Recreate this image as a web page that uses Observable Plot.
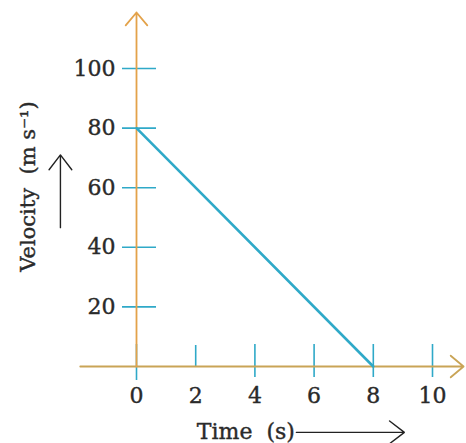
<!DOCTYPE html>
<html>
<head>
<meta charset="utf-8">
<script src="https://cdn.jsdelivr.net/npm/d3@7"></script>
<script src="https://cdn.jsdelivr.net/npm/@observablehq/plot@0.6"></script>
<style>
  html, body { margin: 0; padding: 0; background: #fff; }
  #chart svg { display: block; }
</style>
</head>
<body>
<div id="chart"></div>
<script>
// Data
const time = [0, 8];          // s
const velocity = [80, 0];     // m/s
const xTicks = [0, 2, 4, 6, 8, 10];
const yTicks = [20, 40, 60, 80, 100];
const xAxisExtent = [-1.9, 11.05];
const yAxisExtent = [0, 118.8];
const xLabel = "Time  (s)";
const yLabel = "Velocity  (m s\u207B\u00B9)";
// label placement (data units)
const xLabelPos = {x: 5.35, y: -22.1};
const yLabelPos = {x: -3.65, y: 60.4};
const xLabelArrow = {x1: 5.4, x2: 9.05, y: -22.1};
const yLabelArrow = {x: -2.57, y1: 46.6, y2: 71};

const points = time.map((t, i) => ({t, v: velocity[i]}));
const font = "DejaVu Serif, Liberation Serif, serif";
const teal = "#2fa9c8";
const ink = "#2a2a2a";

const chart = Plot.plot({
  width: 466,
  height: 443,
  marginLeft: 136,
  marginRight: 34,
  marginTop: 68,
  marginBottom: 77,
  x: {domain: [0, 10], axis: null},
  y: {domain: [0, 100], axis: null},
  style: {fontFamily: font, background: "#fff"},
  marks: [
    // x ticks (crossing axis)
    Plot.ruleX(xTicks.filter(d => d !== 2 && d !== 0), {stroke: teal, strokeWidth: 1.6, insetTop: 276, insetBottom: -11}),
    Plot.ruleX([2], {stroke: teal, strokeWidth: 1.6, insetTop: 277, insetBottom: 0}),
    Plot.ruleX([0], {stroke: teal, strokeWidth: 1.6, insetTop: 276, insetBottom: -14}),
    // y ticks
    Plot.ruleY(yTicks, {stroke: teal, strokeWidth: 1.6, insetLeft: -14, insetRight: 276}),
    // axis lines with arrowheads
    Plot.arrow([{x1: xAxisExtent[0], x2: xAxisExtent[1]}], {
      x1: "x1", x2: "x2", y1: 0, y2: 0, bend: 0,
      stroke: "#c9a456", strokeWidth: 1.8, headLength: 14, headAngle: 80
    }),
    Plot.arrow([{y1: yAxisExtent[0], y2: yAxisExtent[1]}], {
      x1: 0, x2: 0, y1: "y1", y2: "y2", bend: 0,
      stroke: "#e3a24a", strokeWidth: 1.8, headLength: 14, headAngle: 80
    }),
    // data line
    Plot.line(points, {x: "t", y: "v", stroke: teal, strokeWidth: 2.6}),
    // tick labels
    Plot.text(yTicks, {x: 0, y: d => d, text: d => String(d), textAnchor: "end", dx: -21, fontSize: 22, fill: ink, stroke: ink, strokeWidth: 0.4}),
    Plot.text(xTicks, {x: d => d, y: 0, text: d => String(d), dy: 29, fontSize: 22, fill: ink, stroke: ink, strokeWidth: 0.4}),
    // axis labels
    Plot.text([xLabelPos], {x: "x", y: "y", text: () => xLabel, textAnchor: "end", fontSize: 22, fill: ink, stroke: ink, strokeWidth: 0.4}),
    Plot.text([yLabelPos], {x: "x", y: "y", text: () => yLabel, rotate: -90, fontSize: 21, fill: ink, stroke: ink, strokeWidth: 0.4}),
    Plot.arrow([xLabelArrow], {x1: "x1", x2: "x2", y1: "y", y2: "y", bend: 0, stroke: "#222", strokeWidth: 1.4, headLength: 20, headAngle: 75}),
    Plot.arrow([yLabelArrow], {x1: "x", x2: "x", y1: "y1", y2: "y2", bend: 0, stroke: "#222", strokeWidth: 1.4, headLength: 20, headAngle: 75})
  ]
});
document.getElementById("chart").appendChild(chart);
</script>
</body>
</html>
